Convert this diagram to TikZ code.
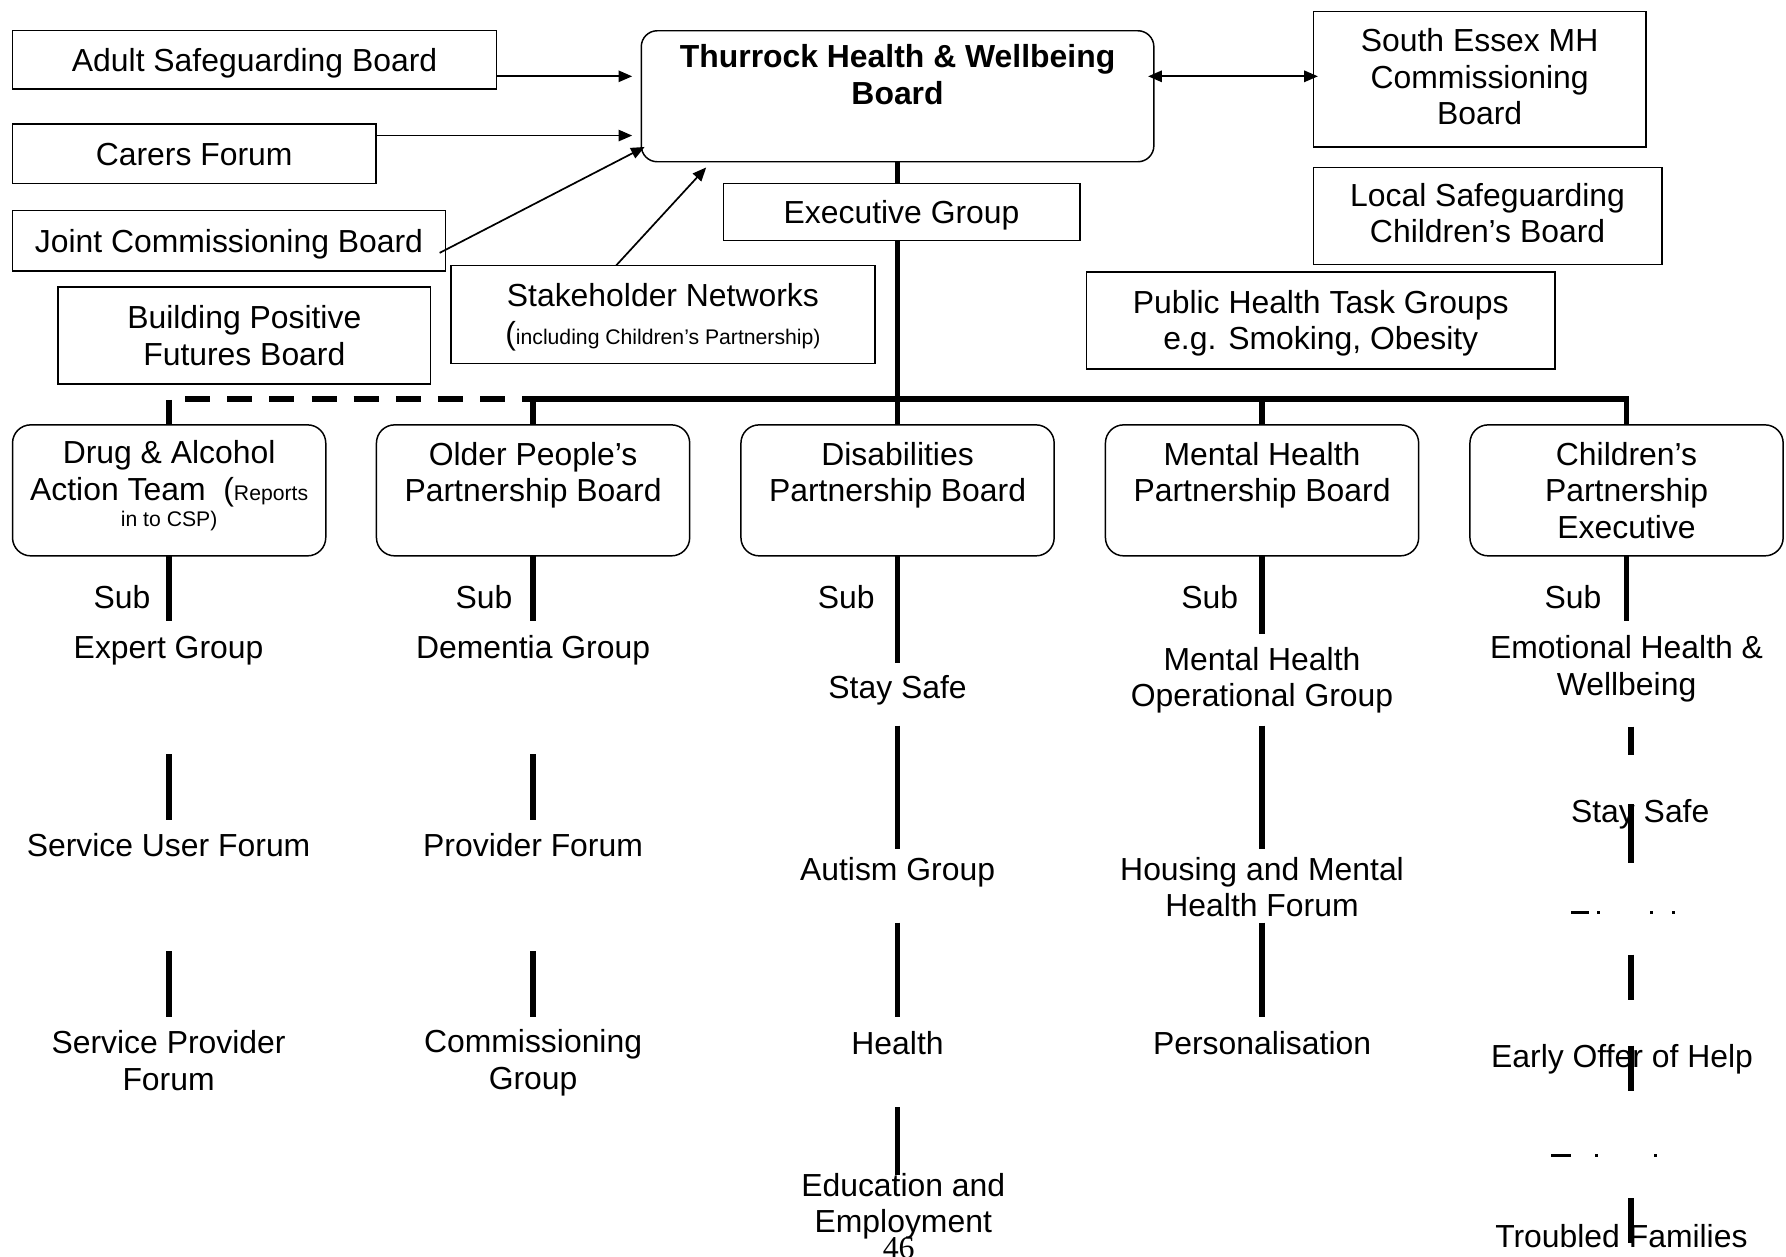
\documentclass[tikz,border=0pt]{standalone}
\usepackage{fontspec}
\setmainfont{Liberation Sans}
\newfontfamily\pagenumfont{Liberation Serif}
\usetikzlibrary{arrows.meta,calc}
\newcommand\smallfnt{\fontsize{9.3}{11}\selectfont}
\begin{document}
\begin{tikzpicture}[x=0.5pt,y=-0.5pt,
  every node/.style={font=\fontsize{14}{16}\selectfont, align=center, inner sep=0pt, outer sep=0pt},
  sqbox/.style={draw, line width=0.65pt},
  oneline/.style={text height=10.2pt, text depth=0.2pt},
  rdbox/.style={draw, line width=0.65pt, rounded corners=8pt, minimum width=137.5pt, minimum height=57.5pt},
  feed/.style={line width=0.75pt, -{Triangle[length=6pt,width=5pt]}},
  twoway/.style={line width=0.75pt, {Triangle[length=6pt,width=5pt]}-{Triangle[length=6pt,width=5pt]}},
  trunk/.style={line width=2.5pt},
  lbl/.style={anchor=base},
]
\useasboundingbox (0,0) rectangle (1568,1103);
\fill[white] (0,0) rectangle (1568,1103);

% ---- top boxes
\node[sqbox, oneline, minimum width=212.5pt, minimum height=25.5pt] (asb) at (223.5,52.5) {Adult Safeguarding Board};
\node[sqbox, oneline, minimum width=159.5pt, minimum height=26pt] (cf) at (170.5,135) {Carers Forum};
\node[sqbox, oneline, minimum width=190pt, minimum height=26.5pt] (jcb) at (201,211.5) {Joint Commissioning Board};
\node[sqbox, minimum width=163.5pt, minimum height=42.5pt] (bpf) at (214.5,294.5) {Building Positive\\Futures Board};
\node[sqbox, rounded corners=7pt, minimum width=225pt, minimum height=57.5pt, font={\fontsize{14}{16}\selectfont\bfseries}] (hwb) at (788,84.5) {Thurrock Health \& Wellbeing\\Board\\[3pt]\mbox{}};
\node[sqbox, oneline, minimum width=156.5pt, minimum height=25pt] (exec) at (791.5,186) {Executive Group};
\node[sqbox, minimum width=186pt, minimum height=43pt] (stk) at (582,276) {\mbox{}\\[-3.3pt]Stakeholder Networks\\[0.5pt]({\smallfnt including Children’s Partnership)}};
\node[sqbox, minimum width=146pt, minimum height=59.5pt] (sem) at (1299,69.5) {South Essex MH\\Commissioning\\Board\\[-14pt]\mbox{}};
\node[sqbox, minimum width=153pt, minimum height=42.5pt] (lscb) at (1306,189.5) {Local Safeguarding\\Children’s Board\\[-13.5pt]\mbox{}};
\node[sqbox, minimum width=205.5pt, minimum height=42.5pt] (ph) at (1159.5,281.5) {\mbox{}\\[-3.8pt]Public Health Task Groups\\e.g. Smoking, Obesity};

% ---- arrows into the board
\coordinate (yA) at (0,67);
\coordinate (yC) at (0,119);
\draw[feed] (asb.east |- yA) -- ($(hwb.west |- yA)+(-8,0)$);
\draw[feed] (cf.east |- yC) -- ($(hwb.west |- yC)+(-8,0)$);
\draw[feed] ($(jcb.east)+(-5,10.5)$) -- ($(hwb.south west)+(3,-13)$);
\draw[feed] ($(stk.north)+(-41,0)$) -- ($(hwb.south west)+(57,5)$);
\draw[twoway] ($(hwb.east |- yA)+(-5,0)$) -- ($(sem.west |- yA)+(4,0)$);

% ---- partnership boards
\node[rdbox] (p1) at (148.5,430.5) {Drug \& Alcohol\\Action Team\ \ ({\smallfnt Reports}\\[-4.7pt]{\smallfnt in to CSP)}\\[-10pt]\mbox{}};
\node[rdbox] (p2) at (468,430.5) {Older People’s\\Partnership Board\\\mbox{}};
\node[rdbox] (p3) at (788,430.5) {Disabilities\\Partnership Board\\\mbox{}};
\node[rdbox] (p4) at (1108,430.5) {Mental Health\\Partnership Board\\\mbox{}};
\node[rdbox] (p5) at (1428,430.5) {Children’s\\Partnership\\Executive};

% ---- trunk and bar
\coordinate (bar) at (788,350);
\draw[trunk] (hwb.south) -- (hwb.south |- exec.north);
\draw[trunk] (hwb.south |- exec.south) -- (bar);
\draw[trunk] ($(p2.north |- bar)+(-8,0)$) -- (p5.north |- bar) -- (p5.north);
\draw[trunk] (p2.north |- bar) -- (p2.north);
\draw[trunk] (p3.north |- bar) -- (p3.north);
\draw[trunk] (p4.north |- bar) -- (p4.north);
\draw[trunk, dash pattern=on 11pt off 7.5pt] ($(p1.north |- bar)+(14,0)$) -- ($(p2.north |- bar)+(-8,0)$);
\draw[trunk] ($(p1.north |- bar)+(0,1)$) -- (p1.north);

% ---- column 1
\node[lbl] (s1) at (107,534) {Sub};
\node[lbl] (c1a) at (148,578) {Expert Group};
\node[lbl] (c1b) at (148,752) {Service User Forum};
\node (c1c) at (148,931) {Service Provider\\Forum};
\draw[trunk] (p1.south) -- ++(0,57);
\draw[trunk] (p1.south) ++(0,174) -- ++(0,58);
\draw[trunk] (p1.south) ++(0,347) -- ++(0,58);

% ---- column 2
\node[lbl] (s2) at (425,534) {Sub};
\node[lbl] (c2a) at (468,578) {Dementia Group};
\node[lbl] (c2b) at (468,752) {Provider Forum};
\node (c2c) at (468,933) {Commissioning\\Group};
\draw[trunk] (p2.south) -- ++(0,57);
\draw[trunk] (p2.south) ++(0,174) -- ++(0,58);
\draw[trunk] (p2.south) ++(0,347) -- ++(0,58);

% ---- column 3
\node[lbl] (s3) at (743,534) {Sub};
\node[lbl] (c3a) at (788,613) {Stay Safe};
\node[lbl] (c3b) at (788,773) {Autism Group};
\node[lbl] (c3c) at (788,926) {Health};
\node (c3d) at (793,1059) {Education and\\Employment};
\draw[trunk] (p3.south) -- ++(0,94);
\draw[trunk] (p3.south) ++(0,149) -- ++(0,108);
\draw[trunk] (p3.south) ++(0,322) -- ++(0,83);
\draw[trunk] (p3.south) ++(0,484) -- ++(0,60);

% ---- column 4
\node[lbl] (s4) at (1062,534) {Sub};
\node (c4a) at (1108,597) {Mental Health\\Operational Group};
\node (c4b) at (1108,779) {Housing and Mental\\Health Forum};
\node[lbl] (c4c) at (1108,926) {Personalisation};
\draw[trunk] (p4.south) -- ++(0,69);
\draw[trunk] (p4.south) ++(0,149) -- ++(0,108);
\draw[trunk] (p4.south) ++(0,322) -- ++(0,83);

% ---- column 5
\node[lbl] (s5) at (1381,534) {Sub};
\node (c5a) at (1428,587) {Emotional Health \&\\Wellbeing};
\node[lbl] (c5b) at (1440,722) {Stay Safe};
\node[lbl] (c5c) at (1424,937) {Early Offer of Help};
\node[lbl] (c5d) at (1423.5,1095) {Troubled Families};
\draw[trunk] (p5.south) -- ++(0,57);
\draw[trunk] ($(p5.south)+(4,150)$) -- ++(0,25);
\draw[trunk] ($(p5.south)+(4,218)$) -- ++(0,52);
\draw[trunk] ($(p5.south)+(4,350)$) -- ++(0,40);
\draw[trunk] ($(p5.south)+(4,430)$) -- ++(0,40);
\draw[trunk] ($(p5.south)+(4,564)$) -- ++(0,39);

% clipped fragments
\fill (1379,800) rectangle (1395,802.5);
\fill (1402,800) rectangle (1404.5,802.5);
\fill (1449,800) rectangle (1451.5,802.5);
\fill (1468,800) rectangle (1470.5,802.5);
\fill (1362,1013) rectangle (1379,1015.5);
\fill (1400,1013) rectangle (1402.5,1015.5);
\fill (1452,1013) rectangle (1454.5,1015.5);

% page number
\node[lbl, font={\pagenumfont\fontsize{14}{16}\selectfont}] (pg) at (789,1105) {46};
\end{tikzpicture}
\end{document}
